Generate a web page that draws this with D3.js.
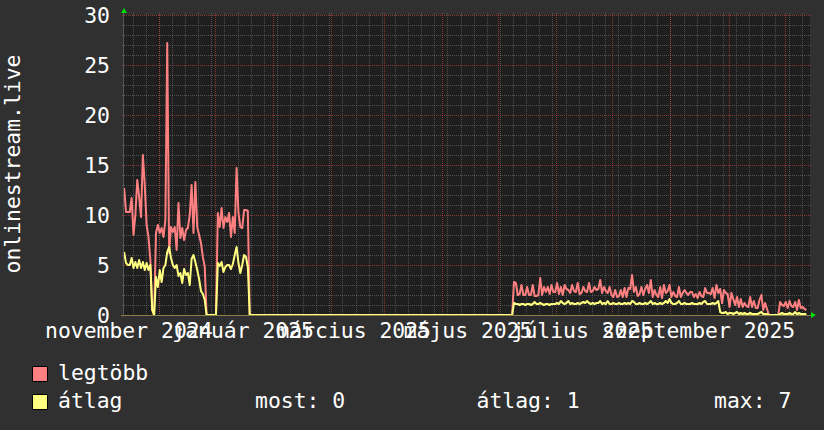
<!DOCTYPE html>
<html>
<head>
<meta charset="utf-8">
<script src="https://cdn.jsdelivr.net/npm/d3@7"></script>
<style>
body { margin: 0; background: #303030; }
svg { display: block; }
text { font-family: "DejaVu Sans Mono", monospace; font-size: 21.4px; fill: #ffffff; }
</style>
</head>
<body>
<script>
var width = 824,
    height = 430;

// daily samples, day 0 = 2024-10-13
var burst1Start = 0;
var burst1Max = [12.7, 10.3, 10.3, 10.3, 11.7, 8.0, 10.0, 13.5, 11.8, 9.8, 16.0, 13.0, 9.0, 7.8, 5.5, 0.5, 0, 8.2, 9.0, 8.2,
                 8.7, 7.8, 9.5, 27.2, 6.2, 8.8, 8.3, 8.8, 6.5, 11.2, 7.7, 8.7, 7.5, 8.5, 8.7, 10.0, 13.0, 8.2, 13.3, 8.8,
                 8.0, 7.2, 5.8, 4.8];
var burst1Avg = [6.3, 5.2, 5.0, 5.0, 5.7, 4.7, 5.3, 4.7, 5.5, 4.7, 5.3, 4.5, 5.2, 4.5, 5.0, 0.5, 0, 3.8, 2.8, 4.5,
                 3.3, 4.7, 5.0, 6.3, 6.8, 5.7, 5.0, 4.7, 5.0, 3.9, 4.2, 3.2, 4.6, 4.0, 4.2, 3.0, 5.6, 6.0, 5.3, 4.5,
                 3.6, 2.4, 2.1, 1.5];

var burst2Start = 50;
var burst2Max = [10.2, 8.8, 10.7, 8.7, 9.8, 9.3, 10.2, 7.8, 9.8, 8.2, 14.7, 10.2, 8.8, 8.7, 10.5, 10.5, 10.4];
var burst2Avg = [5.2, 4.9, 5.3, 4.3, 4.8, 5.0, 5.0, 4.6, 5.1, 6.0, 6.8, 5.2, 4.2, 5.0, 6.0, 5.8, 4.8];

var burst3Start = 208;
var burst3Max = [3.3, 3.2, 2.0, 2.1, 3.0, 2.0, 2.0, 2.8, 2.0, 2.0,
                 3.0, 1.9, 1.9, 2.0, 3.7, 2.0, 2.8, 2.3, 2.8, 2.1,
                 3.0, 2.3, 2.3, 3.2, 2.1, 2.8, 2.0, 3.0, 2.6, 2.5,
                 2.2, 3.0, 2.4, 2.3, 3.2, 2.1, 2.2, 2.8, 2.4, 2.3,
                 3.2, 2.3, 2.4, 2.8, 2.5, 2.6, 3.5, 2.2, 2.8, 2.4,
                 2.2, 2.8, 2.0, 1.8, 2.5, 1.8, 1.9, 2.5, 1.8, 2.7,
                 1.8, 2.7, 2.6, 4.0, 2.3, 2.8, 1.9, 2.1, 2.8, 2.0,
                 2.6, 3.0, 2.2, 3.5, 1.8, 2.5, 2.0, 1.8, 2.8, 1.7,
                 3.0, 2.2, 2.4, 3.0, 1.8, 2.3, 1.9, 1.8, 2.8, 1.8,
                 2.2, 2.5, 2.2, 2.0, 2.3, 2.3, 1.8, 2.1, 1.7, 2.3,
                 1.9, 1.8, 2.7, 2.2, 2.2, 2.1, 2.7, 1.7, 3.0, 2.2,
                 2.6, 1.2, 2.5, 2.2, 2.1, 0.8, 2.2, 1.6, 1.0, 1.8,
                 0.8, 1.6, 0.8, 1.2, 0.9, 0.8, 1.8, 0.8, 1.4, 0.7,
                 0.7, 1.5, 2.0, 0.5, 1.2, 0.6, 0];
var burst3Avg = [1.2, 1.1, 1.1, 1.0, 1.1, 1.1, 1.0, 1.1, 1.1, 1.0,
                 1.1, 1.3, 1.1, 1.1, 1.2, 1.1, 1.0, 1.1, 1.1, 1.0,
                 1.1, 1.1, 1.1, 1.2, 1.1, 1.4, 1.2, 1.1, 1.2, 1.4,
                 1.1, 1.2, 1.1, 1.1, 1.2, 1.1, 1.2, 1.3, 1.2, 1.4,
                 1.2, 1.1, 1.2, 1.1, 1.2, 1.2, 1.4, 1.1, 1.2, 1.1,
                 1.4, 1.1, 1.1, 1.2, 1.1, 1.1, 1.2, 1.1, 1.1, 1.2,
                 1.1, 1.2, 1.1, 1.4, 1.3, 1.1, 1.1, 1.2, 1.1, 1.1,
                 1.2, 1.1, 1.2, 1.4, 1.1, 1.2, 1.1, 1.1, 1.2, 1.1,
                 1.2, 1.4, 1.2, 1.6, 1.2, 1.1, 1.1, 1.2, 1.4, 1.1,
                 1.1, 1.2, 1.1, 1.1, 1.1, 1.2, 1.1, 1.1, 1.1, 1.2,
                 1.1, 1.3, 1.4, 1.1, 1.1, 1.1, 1.2, 1.1, 1.2, 1.4,
                 0.3, 0.2, 0.2, 0.3, 0.1, 0.2, 0.2, 0.1, 0.2, 0.3,
                 0.1, 0.2, 0.1, 0.2, 0.1, 0.1, 0.2, 0.1, 0.1, 0.1,
                 0.1, 0.2, 0.3, 0.1, 0.1, 0.1, 0];

var burst4Start = 350;
var burst4Max = [1.3, 1.0, 0.9, 1.3, 0.7, 1.4, 0.9, 0.8, 1.3, 0.5, 1.5, 0.7, 0.8, 0.6, 0.5];
var burst4Avg = [0.1, 0.2, 0.1, 0.1, 0.1, 0.2, 0.1, 0.1, 0.3, 0.1, 0.2, 0.1, 0.1, 0.1, 0.1];

// days where both series sit at 0
var idleSpans = [[44, 49], [67, 207], [345, 349]];

var labelMonths = ["2024-11-01", "2025-01-01", "2025-03-01", "2025-05-01", "2025-07-01", "2025-09-01"];
var monthLabels = ["november 2024", "január 2025", "március 2025", "május 2025", "július 2025", "szeptember 2025"];

var axisTitle = "onlinestream.live";
var legendNames = ["legtöbb", "átlag"];
var avgStats = ["most: 0", "átlag: 1", "max: 7"];

var maxColor = "#ff8080",
    avgColor = "#ffff80";

var day0 = Date.UTC(2024, 9, 13, 12);
function dayDate(k) { return new Date(day0 + k * 864e5); }

var bursts = [
    {start: burst1Start, max: burst1Max, avg: burst1Avg},
    {start: burst2Start, max: burst2Max, avg: burst2Avg},
    {start: burst3Start, max: burst3Max, avg: burst3Avg},
    {start: burst4Start, max: burst4Max, avg: burst4Avg}
];

function series(key) {
    var pts = [];
    bursts.forEach(function(b) {
        b[key].forEach(function(v, i) { pts.push({t: dayDate(b.start + i), v: v}); });
    });
    idleSpans.forEach(function(s) {
        pts.push({t: dayDate(s[0]), v: 0});
        pts.push({t: dayDate(s[1]), v: 0});
    });
    pts.sort(function(a, b) { return a.t - b.t; });
    return pts;
}

var svg = d3.select('body')
    .append('svg')
    .attr('width', width)
    .attr('height', height);

svg.append('rect').attr('width', width).attr('height', height).attr('fill', '#303030');

var x = d3.scaleUtc()
    .domain([new Date(Date.UTC(2024, 9, 13, 10, 20)), new Date(Date.UTC(2025, 9, 14, 10, 20))])
    .range([124, 810]);

var y = d3.scaleLinear()
    .domain([0, 30])
    .range([315, 15]);

svg.append('rect')
    .attr('x', x.range()[0]).attr('y', y(30))
    .attr('width', x.range()[1] - x.range()[0]).attr('height', y(0) - y(30))
    .attr('fill', '#1f1f1f');

var grid = svg.append('g');

// minor grid: weeks and units
grid.selectAll('line.wk')
    .data(d3.utcFriday.range(x.domain()[0], x.domain()[1]))
    .enter().append('line')
    .attr('x1', d => Math.round(x(d)) + 0.5).attr('x2', d => Math.round(x(d)) + 0.5)
    .attr('y1', y(30) - 2).attr('y2', y(0) + 2)
    .attr('stroke', '#8a8a8a').attr('stroke-opacity', 0.45)
    .attr('stroke-dasharray', '1,1');

grid.selectAll('line.un')
    .data(y.ticks(30).filter(d => d % 5 != 0))
    .enter().append('line')
    .attr('x1', x.range()[0] - 2).attr('x2', x.range()[1] + 1)
    .attr('y1', d => y(d) + 0.5).attr('y2', d => y(d) + 0.5)
    .attr('stroke', '#8a8a8a').attr('stroke-opacity', 0.45)
    .attr('stroke-dasharray', '1,1');

// major grid: months and every 5
grid.selectAll('line.mo')
    .data(d3.utcMonth.range(x.domain()[0], x.domain()[1]))
    .enter().append('line')
    .attr('x1', d => Math.round(x(d)) + 0.5).attr('x2', d => Math.round(x(d)) + 0.5)
    .attr('y1', y(30) - 2).attr('y2', y(0) + 2)
    .attr('stroke', '#d04848').attr('stroke-opacity', 0.6)
    .attr('stroke-dasharray', '1,1');

grid.selectAll('line.fv')
    .data(y.ticks(6))
    .enter().append('line')
    .attr('x1', x.range()[0] - 2).attr('x2', x.range()[1] + 1)
    .attr('y1', d => y(d) + 0.5).attr('y2', d => y(d) + 0.5)
    .attr('stroke', '#d04848').attr('stroke-opacity', 0.6)
    .attr('stroke-dasharray', '1,1');

var line = d3.line()
    .x(d => x(d.t))
    .y(d => y(d.v));

svg.append('path')
    .attr('d', line(series('max')))
    .attr('fill', 'none')
    .attr('stroke', maxColor)
    .attr('stroke-width', 2)
    .attr('stroke-linejoin', 'round');

svg.append('path')
    .attr('d', line(series('avg')))
    .attr('fill', 'none')
    .attr('stroke', avgColor)
    .attr('stroke-width', 2)
    .attr('stroke-linejoin', 'round');

// axes
svg.append('line')
    .attr('x1', x.range()[0] - 3).attr('x2', x.range()[1] + 1)
    .attr('y1', y(0) + 0.5).attr('y2', y(0) + 0.5)
    .attr('stroke', '#8c8248');
svg.append('line')
    .attr('x1', x.range()[0] - 0.5).attr('x2', x.range()[0] - 0.5)
    .attr('y1', y(0) + 2).attr('y2', y(30) - 2)
    .attr('stroke', '#555555');

svg.append('path')
    .attr('d', 'M' + (x.range()[0] - 3) + ',' + (y(30) - 2) + 'h6l-3,-5z')
    .attr('fill', '#00dd00');
svg.append('path')
    .attr('d', 'M' + (x.range()[1] + 1) + ',' + (y(0) - 3) + 'v6l5,-3z')
    .attr('fill', '#00dd00');

// tick labels
svg.selectAll('text.yl')
    .data(y.ticks(6))
    .enter().append('text')
    .attr('x', 110)
    .attr('y', d => y(d) + 7.5)
    .attr('text-anchor', 'end')
    .text(d => d);

svg.selectAll('text.xl')
    .data(labelMonths)
    .enter().append('text')
    .attr('x', d => x(d3.utcDay.offset(new Date(d + 'T00:00Z'), -16)))
    .attr('y', 338)
    .attr('text-anchor', 'middle')
    .text((d, i) => monthLabels[i]);

svg.append('text')
    .attr('transform', 'translate(20,164) rotate(-90)')
    .attr('text-anchor', 'middle')
    .text(axisTitle);

// legend
var legendColors = [maxColor, avgColor];
legendNames.forEach(function(name, i) {
    svg.append('rect')
        .attr('x', 32.5).attr('y', 366.5 + i * 28)
        .attr('width', 15).attr('height', 15)
        .attr('fill', legendColors[i])
        .attr('stroke', '#000');
    svg.append('text')
        .attr('x', 58).attr('y', 380 + i * 28)
        .text(name);
});

var statX = [255, 476.5, 714];
avgStats.forEach(function(s, i) {
    svg.append('text')
        .attr('x', statX[i]).attr('y', 408)
        .text(s);
});
</script>
</body>
</html>
